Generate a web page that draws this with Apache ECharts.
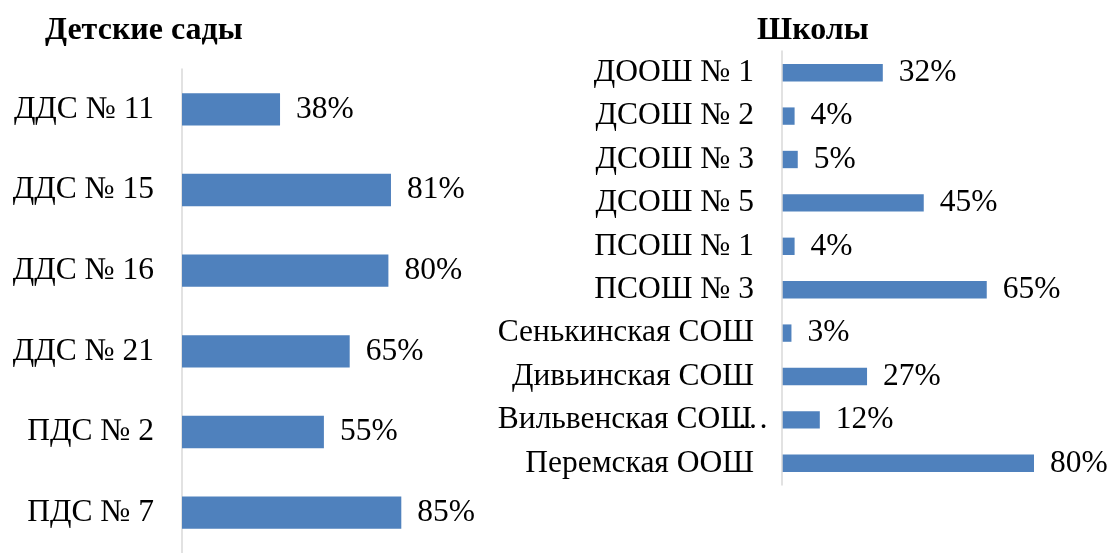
<!DOCTYPE html>
<html><head><meta charset="utf-8">
<script src="https://cdn.jsdelivr.net/npm/echarts@6/dist/echarts.min.js"></script>
<style>html,body{margin:0;padding:0;background:#fff}#c{width:1109px;height:553px}</style>
</head><body><div id="c"></div>
<script>
const kgCategories = ['ДДС № 11','ДДС № 15','ДДС № 16','ДДС № 21','ПДС № 2','ПДС № 7'];
const kgValues = [38,81,80,65,55,85];
const schoolCategories = ['ДООШ № 1','ДСОШ № 2','ДСОШ № 3','ДСОШ № 5','ПСОШ № 1','ПСОШ № 3','Сенькинская СОШ','Дивьинская СОШ','Вильвенская СОШ…','Перемская ООШ'];
const schoolValues = [32,4,5,45,4,65,3,27,12,80];

const FONT = '"Liberation Serif","Times New Roman",serif';
const FS = 31.5;
const chart = echarts.init(document.getElementById('c'));
const catAxis = (gi, data) => ({
  type:'category', gridIndex:gi, data, inverse:true,
  axisLine:{show:true,lineStyle:{color:'#d9d9d9',width:1.5}},
  axisTick:{show:false},
  axisLabel:{color:'#000',fontFamily:FONT,fontSize:FS,margin:28,
    formatter: v => v.endsWith('…') ? '{a|' + v.slice(0,-1) + '}{b|…}' : v,
    rich:{a:{color:'#000',fontFamily:FONT,fontSize:FS},b:{color:'#000',fontFamily:FONT,fontSize:FS,width:2,align:'left'}}
  }
});
const valAxis = gi => ({type:'value',gridIndex:gi,min:0,max:100,show:false,splitLine:{show:false}});
const barSeries = (i, data) => ({
  type:'bar', xAxisIndex:i, yAxisIndex:i, data, barCategoryGap:'60%', z:1,
  itemStyle:{color:'#4F81BD'},
  label:{show:true,position:'right',distance:16,formatter:'{c}%',color:'#000',fontFamily:FONT,fontSize:FS}
});
chart.setOption({
  animation:false,
  title:[
    {text:'Детские сады',left:40,top:10,textStyle:{fontFamily:FONT,fontSize:32,fontWeight:'bold',color:'#000'}},
    {text:'Школы',left:752,top:10,textStyle:{fontFamily:FONT,fontSize:32,fontWeight:'bold',color:'#000'}}
  ],
  grid:[
    {left:182,top:69,width:258,height:492,containLabel:false},
    {left:782,top:51,width:315,height:434,containLabel:false}
  ],
  xAxis:[valAxis(0),valAxis(1)],
  yAxis:[catAxis(0,kgCategories),Object.assign(catAxis(1,schoolCategories),{z:5})],
  series:[barSeries(0,kgValues),barSeries(1,schoolValues)]
});
</script></body></html>
